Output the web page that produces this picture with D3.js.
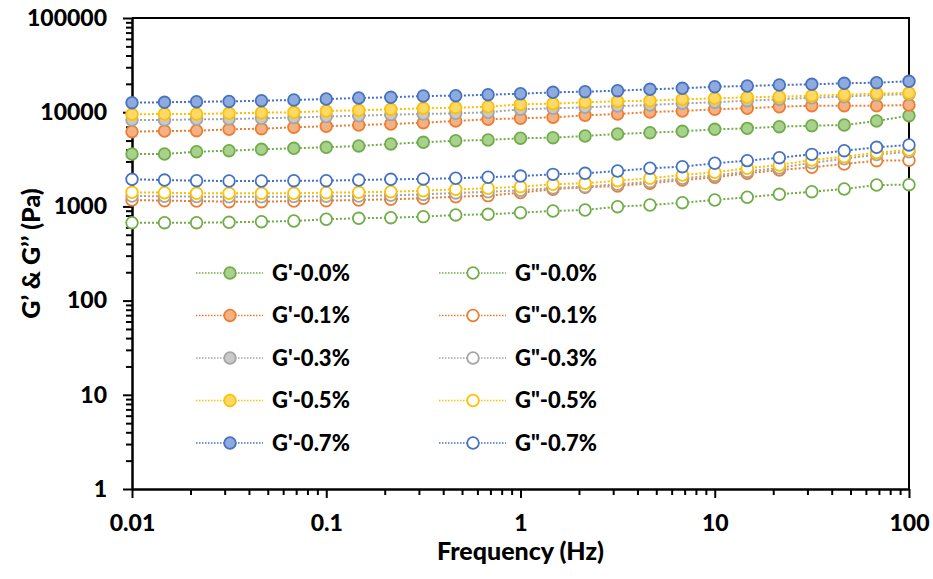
<!DOCTYPE html>
<html>
<head>
<meta charset="utf-8">
<script src="https://cdn.jsdelivr.net/npm/d3@7"></script>
<style>
  body { margin: 0; background: #fff; }
  svg text { font-family: Lato, "Open Sans", sans-serif; font-weight: 900; fill: #000; }
  .axis path, .axis line { stroke: #000; }
</style>
</head>
<body>
<div class="chart-container"></div>
<script>
// frequency sweep (Hz), 6 points per decade
const freq = [0.01, 0.0147, 0.0215, 0.0316, 0.0464, 0.0681,
              0.1, 0.147, 0.215, 0.316, 0.464, 0.681,
              1, 1.47, 2.15, 3.16, 4.64, 6.81,
              10, 14.7, 21.5, 31.6, 46.4, 68.1, 100];

// storage modulus G' (Pa)
const gStore00 = [3600, 3600, 3810, 3900, 4040, 4140, 4240, 4380, 4600, 4790, 4985, 5070, 5290,
                  5360, 5590, 5870, 6060, 6270, 6580, 6740, 7020, 7190, 7310, 8070, 9180];
const gStore01 = [6210, 6310, 6360, 6580, 6680, 6920, 7090, 7310, 7490, 7740, 8070, 8410, 8610,
                  8830, 9270, 9570, 10050, 10300, 10730, 11000, 11430, 11720, 11720, 11720, 11920];
const gStore03 = [8260, 8260, 8400, 8460, 8610, 8760, 9000, 9160, 9420, 9570, 9730, 9980, 10730,
                  11000, 11250, 11620, 11900, 12400, 12740, 13250, 13700, 14240, 14600, 15230, 15500];
const gStore05 = [9500, 9570, 9570, 9730, 9880, 9980, 10300, 10480, 10730, 11000, 11160, 11430, 12130,
                  12310, 12740, 13050, 13250, 13700, 14050, 14390, 14600, 14970, 15340, 15850, 16000];
const gStore07 = [12620, 12740, 12920, 13000, 13250, 13480, 13800, 14150, 14390, 14860, 14970, 15340, 15700,
                  16260, 16510, 16910, 17510, 17940, 18650, 18970, 19440, 19770, 20270, 20570, 21290];

// loss modulus G'' (Pa)
const gLoss00 = [671, 671, 671, 678, 688, 700, 730, 748, 759, 778, 811, 824, 857,
                 894, 916, 993, 1035, 1094, 1170, 1250, 1344, 1432, 1530, 1687, 1700];
const gLoss01 = [1170, 1150, 1141, 1122, 1122, 1141, 1150, 1170, 1190, 1219, 1268, 1300, 1400,
                 1520, 1595, 1647, 1760, 1905, 2035, 2245, 2435, 2600, 2820, 3055, 3080];
const gLoss03 = [1290, 1280, 1270, 1265, 1265, 1270, 1280, 1290, 1310, 1340, 1390, 1430, 1480,
                 1570, 1620, 1720, 1830, 1990, 2130, 2350, 2560, 2900, 3200, 3550, 3800];
const gLoss05 = [1412, 1398, 1377, 1377, 1377, 1377, 1398, 1412, 1432, 1468, 1520, 1557, 1619,
                 1718, 1760, 1875, 1990, 2155, 2300, 2540, 2750, 3110, 3370, 3720, 3970];
const gLoss07 = [1940, 1905, 1875, 1860, 1860, 1875, 1875, 1905, 1940, 1955, 1990, 2040, 2100,
                 2190, 2245, 2375, 2540, 2640, 2870, 3060, 3290, 3570, 3900, 4240, 4490];

const xTicks = [0.01, 0.1, 1, 10, 100];
const xTickLabels = ["0.01", "0.1", "1", "10", "100"];
const yTicks = [1, 10, 100, 1000, 10000, 100000];
const yTickLabels = ["1", "10", "100", "1000", "10000", "100000"];

const seriesNames = ["G'-0.0%", "G'-0.1%", "G'-0.3%", "G'-0.5%", "G'-0.7%",
                     'G"-0.0%', 'G"-0.1%', 'G"-0.3%', 'G"-0.5%', 'G"-0.7%'];
const seriesValues = [gStore00, gStore01, gStore03, gStore05, gStore07,
                      gLoss00, gLoss01, gLoss03, gLoss05, gLoss07];
const strokeColors = ["#70ad47", "#ed7d31", "#a5a5a5", "#ffc000", "#4472c4"];
const fillColors = ["#a9d18e", "#f4b183", "#c9c9c9", "#ffd966", "#8faadc"];

const series = seriesNames.map((name, i) => ({
  name: name,
  stroke: strokeColors[i % 5],
  fill: i < 5 ? fillColors[i % 5] : "#fff",
  points: freq.map((f, j) => ({ f: f, v: seriesValues[i][j] }))
}));

function minorTicks(lo, hi) {
  const out = [];
  for (let d = lo; d < hi; d *= 10) {
    for (let k = 2; k <= 9; k++) out.push(d * k);
  }
  return out;
}

function setupCanvas() {
  const svg_width = 933;
  const svg_height = 579;
  const plot = { left: 132, right: 909, top: 18, bottom: 489 };

  const svg = d3.select('.chart-container').append('svg')
    .attr('width', svg_width).attr('height', svg_height);

  const xScale = d3.scaleLog().domain([0.01, 100]).range([plot.left, plot.right]);
  const yScale = d3.scaleLog().domain([1, 100000]).range([plot.bottom, plot.top]);

  // frame (top and right)
  svg.append('path')
    .attr('d', `M${plot.left},${plot.top}H${plot.right}V${plot.bottom}`)
    .attr('fill', 'none').attr('stroke', '#000').attr('stroke-width', 2);

  // minor ticks
  svg.append('g').attr('class', 'axis')
    .attr('transform', `translate(0,${plot.bottom})`)
    .call(d3.axisBottom(xScale).tickValues(minorTicks(0.01, 100)).tickSize(6).tickFormat(''))
    .call(g => g.select('.domain').remove())
    .selectAll('line').attr('stroke-width', 2);
  svg.append('g').attr('class', 'axis')
    .attr('transform', `translate(${plot.left},0)`)
    .call(d3.axisLeft(yScale).tickValues(minorTicks(1, 100000)).tickSize(6).tickFormat(''))
    .call(g => g.select('.domain').remove())
    .selectAll('line').attr('stroke-width', 2);

  // major axes
  const xAxisDraw = svg.append('g').attr('class', 'x axis')
    .attr('transform', `translate(0,${plot.bottom})`)
    .call(d3.axisBottom(xScale).tickValues(xTicks).tickSize(9).tickSizeOuter(0).tickPadding(17)
      .tickFormat((d, i) => xTickLabels[i]));
  xAxisDraw.select('.domain').attr('stroke-width', 2.5);
  xAxisDraw.selectAll('line').attr('stroke-width', 2);
  xAxisDraw.selectAll('text').style('font-size', '23px');

  const yAxisDraw = svg.append('g').attr('class', 'y axis')
    .attr('transform', `translate(${plot.left},0)`)
    .call(d3.axisLeft(yScale).tickValues(yTicks).tickSize(9).tickSizeOuter(0).tickPadding(16)
      .tickFormat((d, i) => yTickLabels[i]));
  yAxisDraw.select('.domain').attr('stroke-width', 2.5);
  yAxisDraw.selectAll('line').attr('stroke-width', 2);
  yAxisDraw.selectAll('text').style('font-size', '23px');

  // series
  const line = d3.line().x(d => xScale(d.f)).y(d => yScale(d.v));
  series.forEach(s => {
    const g = svg.append('g');
    g.append('path').datum(s.points)
      .attr('d', line)
      .attr('fill', 'none')
      .attr('stroke', s.stroke)
      .attr('stroke-width', 2)
      .attr('stroke-dasharray', '2,2');
    g.selectAll('circle').data(s.points).enter().append('circle')
      .attr('cx', d => xScale(d.f))
      .attr('cy', d => yScale(d.v))
      .attr('r', 5.8)
      .attr('fill', s.fill)
      .attr('stroke', s.stroke)
      .attr('stroke-width', 1.8);
  });

  // legend, two columns
  const legend = svg.append('g').attr('class', 'legend');
  series.forEach((s, i) => {
    const col = Math.floor(i / 5);
    const row = i % 5;
    const lx = 196 + col * 243;
    const ly = 273 + row * 42.5;
    const item = legend.append('g').attr('transform', `translate(${lx},${ly})`);
    item.append('line')
      .attr('x1', 0).attr('x2', 67).attr('y1', 0).attr('y2', 0)
      .attr('stroke', s.stroke).attr('stroke-width', 1.5)
      .attr('stroke-dasharray', '1.5,1.5');
    item.append('circle')
      .attr('cx', 34).attr('cy', 0).attr('r', 5.8)
      .attr('fill', s.fill).attr('stroke', s.stroke).attr('stroke-width', 1.8);
    item.append('text')
      .attr('x', 76).attr('y', 0).attr('dy', '0.35em')
      .style('font-size', '22px')
      .text(s.name);
  });

  // axis labels
  svg.append('text')
    .attr('x', (plot.left + plot.right) / 2)
    .attr('y', 560)
    .attr('text-anchor', 'middle')
    .style('font-size', '25px')
    .text('Frequency (Hz)');

  svg.append('text')
    .attr('transform', `translate(40,${(plot.top + plot.bottom) / 2}) rotate(-90)`)
    .attr('text-anchor', 'middle')
    .style('font-size', '25px')
    .text('G’ & G’’ (Pa)');
}

setupCanvas();
</script>
</body>
</html>
